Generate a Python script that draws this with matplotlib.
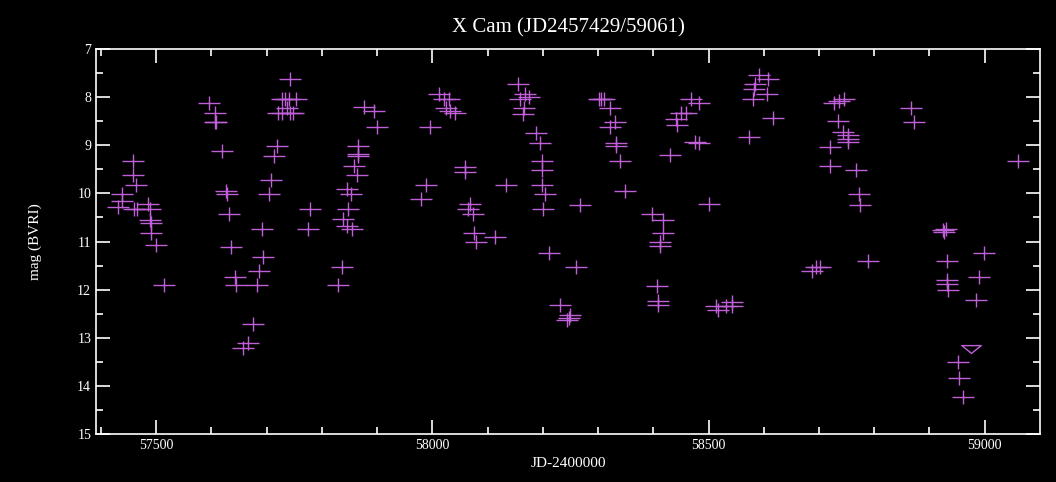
import numpy as np
import matplotlib
matplotlib.use("Agg")
import matplotlib.pyplot as plt
from matplotlib.path import Path

# observations (JD-2400000, magnitude)
jd = [57431, 57438, 57438, 57458, 57458, 57463, 57460, 57465, 57486, 57488,
      57489, 57491, 57491, 57499, 57514,
      57595, 57606, 57606, 57609, 57620, 57626, 57628, 57631, 57636, 57643,
      57645, 57676, 57667, 57657, 57683, 57687, 57694, 57692, 57704, 57708,
      57714, 57719, 57727, 57733, 57741, 57753, 57721, 57728, 57742, 57748,
      57736, 57743, 57778, 57774,
      57830, 57836, 57839, 57845, 57855, 57848, 57846, 57852, 57863, 57858,
      57866, 57866, 57866, 57876, 57895, 57900,
      57995, 57980, 57989, 58012, 58021, 58030, 58024, 58032, 58041, 58059,
      58059, 58068, 58065, 58073, 58076, 58079, 58113, 58133, 58155, 58158,
      58167, 58175, 58165, 58164, 58187, 58195, 58198, 58198, 58198, 58204,
      58200, 58212, 58260, 58267, 58231, 58250, 58247, 58244,
      58302, 58306, 58310, 58321, 58330, 58321, 58333, 58333, 58339, 58349,
      58398, 58418, 58418, 58413, 58413, 58406, 58408, 58408, 58430, 58443,
      58441, 58450, 58459, 58469, 58482, 58475, 58482, 58500,
      58517, 58514, 58532, 58542, 58542, 58573, 58580, 58583, 58585, 58591,
      58607, 58606, 58616, 58695, 58701, 58688, 58719, 58719, 58728, 58737,
      58746, 58735, 58744, 58752, 58753, 58753, 58767, 58772, 58774, 58788,
      58867, 58872, 58924, 58927, 58930, 58931, 58931, 58931, 58934, 58951,
      58953, 58960, 58999, 58990, 58985, 59061]
mag = [10.28, 10.02, 10.16, 9.33, 9.62, 9.83, 10.33, 10.33, 10.23, 10.33,
       10.56, 10.62, 10.83, 11.08, 11.91,
       8.12, 8.33, 8.52, 8.52, 9.12, 9.95, 10.02, 10.43, 11.12, 11.73,
       11.91, 12.72, 13.11, 13.21, 11.91, 11.62, 11.32, 10.74, 10.02, 9.73,
       9.23, 9.02, 8.03, 8.03, 8.03, 8.03, 8.33, 8.33, 8.33, 8.33,
       8.23, 7.62, 10.33, 10.74,
       11.91, 11.52, 10.53, 10.67, 10.74, 10.33, 9.90, 10.02, 9.62, 9.44,
       9.18, 9.23, 9.02, 8.20, 8.29, 8.63,
       8.63, 10.12, 9.83, 7.94, 8.03, 8.03, 8.23, 8.28, 8.32, 9.45,
       9.56, 10.23, 10.33, 10.42, 10.83, 11.02, 10.91, 9.83, 7.73, 8.03,
       7.94, 7.99, 8.23, 8.34, 8.74, 8.95, 9.33, 9.52, 9.83, 10.02,
       10.33, 11.23, 11.53, 10.24, 12.31, 12.52, 12.59, 12.63,
       8.03, 8.03, 8.03, 8.23, 8.52, 8.63, 8.95, 9.02, 9.33, 9.95,
       10.42, 10.56, 10.83, 11.02, 11.09, 11.92, 12.23, 12.31, 9.21, 8.58,
       8.46, 8.32, 8.32, 8.03, 8.12, 8.93, 8.95, 10.23,
       12.43, 12.34, 12.34, 12.25, 12.34, 8.82, 8.03, 7.83, 7.73, 7.53,
       7.62, 7.94, 8.44, 11.53, 11.53, 11.61, 9.03, 9.43, 8.12, 8.07,
       8.03, 8.50, 8.72, 8.79, 8.86, 8.93, 9.52, 10.02, 10.24, 11.41,
       8.23, 8.52, 10.76, 10.81, 10.73, 11.41, 11.80, 11.89, 12.01, 13.51,
       13.83, 14.23, 11.23, 11.73, 12.22, 9.33]

# fainter-than limits
lim_jd = [58975]
lim_mag = [13.24]

col = "#c060d8"
plus = Path([(-1, 0), (1, 0), (0, -0.6), (0, 0.6)],
            [Path.MOVETO, Path.LINETO, Path.MOVETO, Path.LINETO])
tri = Path([(-1, 0.4), (1, 0.4), (0, -0.4), (-1, 0.4)],
           [Path.MOVETO, Path.LINETO, Path.LINETO, Path.CLOSEPOLY])

plt.rcParams["font.family"] = "Liberation Serif"
fig = plt.figure(figsize=(10.56, 4.82), dpi=100, facecolor="black")
ax = fig.add_axes([0.0909, 0.0996, 0.8939, 0.7987], facecolor="black")

ax.plot(jd, mag, ls="none", marker=plus, ms=16, mew=1.0, color=col)
ax.plot(lim_jd, lim_mag, ls="none", marker=tri, ms=14, mfc="none",
        mec=col, mew=1.0)

ax.set_xlim(57391, 59100)
ax.set_ylim(15, 7)
ax.set_xticks([57500, 58000, 58500, 59000])
ax.set_xticks(np.arange(57400, 59100, 100), minor=True)
ax.set_yticks(range(7, 16))
ax.set_yticks(np.arange(7.5, 15, 1), minor=True)

for s in ax.spines.values():
    s.set_color("white")
    s.set_linewidth(1.2)
ax.tick_params(which="both", direction="in", colors="white", top=True,
               right=True, labelsize=10, width=1.2)
ax.tick_params(which="major", length=10)
ax.tick_params(which="minor", length=5)

ax.set_title("X Cam (JD2457429/59061)", color="white", fontsize=15, pad=12)
ax.set_xlabel("JD-2400000", color="white", fontsize=11)
ax.set_ylabel("mag (BVRI)", color="white", fontsize=11, labelpad=25)

fig.savefig("out.png", dpi=100, facecolor="black")
